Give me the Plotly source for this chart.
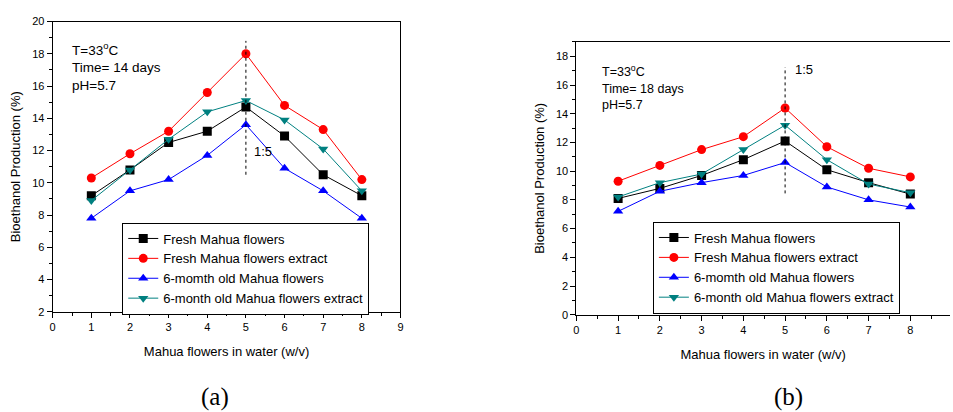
import plotly.graph_objects as go

# Mahua flower to water ratio (w/v)
ratio = [1, 2, 3, 4, 5, 6, 7, 8]

series_names = [
    "Fresh Mahua flowers",
    "Fresh Mahua flowers extract",
    "6-momth old Mahua flowers",
    "6-month old Mahua flowers extract",
]

# (a) 14 days of fermentation
fresh_14 = [9.2, 10.8, 12.5, 13.2, 14.7, 12.9, 10.5, 9.2]
fresh_extract_14 = [10.3, 11.8, 13.2, 15.6, 18.0, 14.8, 13.3, 10.2]
old_14 = [7.8, 9.5, 10.2, 11.7, 13.6, 10.9, 9.5, 7.8]
old_extract_14 = [8.9, 10.8, 12.7, 14.4, 15.1, 13.9, 12.1, 9.5]

# (b) 18 days of fermentation
fresh_18 = [8.1, 8.8, 9.7, 10.8, 12.1, 10.1, 9.2, 8.4]
fresh_extract_18 = [9.3, 10.4, 11.5, 12.4, 14.4, 11.7, 10.2, 9.6]
old_18 = [7.2, 8.6, 9.2, 9.7, 10.6, 8.9, 8.0, 7.5]
old_extract_18 = [8.2, 9.2, 9.8, 11.5, 13.2, 10.8, 9.1, 8.5]

# optimum ratio marker (1:5) spans for each panel
optimum_x = 5
optimum_span_a = [10.5, 18.8]
optimum_span_b = [8.45, 17.25]

colors = ["#000000", "#ff0000", "#0000ff", "#008080"]
symbols = ["square", "circle", "triangle-up", "triangle-down"]

FONT = "Arial, Liberation Sans, sans-serif"

fig = go.Figure()

panels = [
    ("x", "y", "legend", [fresh_14, fresh_extract_14, old_14, old_extract_14]),
    ("x2", "y2", "legend2", [fresh_18, fresh_extract_18, old_18, old_extract_18]),
]
for xa, ya, lg, data in panels:
    for name, vals, c, s in zip(series_names, data, colors, symbols):
        fig.add_trace(go.Scatter(
            x=ratio, y=vals, name=name, mode="lines+markers",
            line=dict(color=c, width=1),
            marker=dict(color=c, symbol=s, size=9),
            xaxis=xa, yaxis=ya, legend=lg,
        ))

axis_common = dict(
    showgrid=False, zeroline=False, showline=True, linecolor="black",
    linewidth=1, ticks="outside", ticklen=5, tickcolor="black",
    tickfont=dict(family=FONT, size=11, color="black"),
)

fig.update_layout(
    width=953, height=412,
    margin=dict(l=0, r=0, t=0, b=0),
    paper_bgcolor="white", plot_bgcolor="white",
    font=dict(family=FONT, color="black"),
    xaxis=dict(domain=[50 / 953, 400 / 953], range=[0, 9], dtick=1,
               mirror=True, anchor="y",
               minor=dict(dtick=0.5, ticks="outside", ticklen=3, tickcolor="black"),
               title=dict(text="Mahua flowers in water (w/v)",
                          font=dict(size=13), standoff=14),
               **axis_common),
    yaxis=dict(domain=[97 / 412, 396 / 412], range=[2, 20], dtick=2,
               mirror=True, anchor="x",
               minor=dict(dtick=1, ticks="outside", ticklen=3, tickcolor="black"),
               title=dict(text="Bioethanol Production (%)",
                          font=dict(size=13), standoff=8),
               **axis_common),
    xaxis2=dict(domain=[577 / 953, 1.0], range=[0, 8.95], dtick=1,
                mirror=True, anchor="y2",
                minor=dict(dtick=0.5, ticks="outside", ticklen=3, tickcolor="black"),
                title=dict(text="Mahua flowers in water (w/v)",
                           font=dict(size=13), standoff=14),
                **axis_common),
    yaxis2=dict(domain=[94 / 412, 375 / 412], range=[0, 19], dtick=2,
                mirror=False, anchor="x2",
                minor=dict(dtick=1, ticks="outside", ticklen=3, tickcolor="black"),
                title=dict(text="Bioethanol Production (%)",
                           font=dict(size=13), standoff=8),
                **axis_common),
    legend=dict(x=120 / 953, y=189 / 412, xanchor="left", yanchor="top",
                bordercolor="black", borderwidth=1, bgcolor="white",
                font=dict(size=13), tracegroupgap=0, itemwidth=30),
    legend2=dict(x=654 / 953, y=190 / 412, xanchor="left", yanchor="top",
                 bordercolor="black", borderwidth=1, bgcolor="white",
                 font=dict(size=13), tracegroupgap=0, itemwidth=30),
)

# dashed line at the optimum ratio
for xr, yr, span in [("x", "y", optimum_span_a), ("x2", "y2", optimum_span_b)]:
    fig.add_shape(type="line", xref=xr, yref=yr,
                  x0=optimum_x, x1=optimum_x, y0=span[0], y1=span[1],
                  line=dict(color="black", width=1, dash="dot"))

conditions_a = "T=33<sup>o</sup>C<br>Time= 14 days<br>pH=5.7"
conditions_b = "T=33<sup>o</sup>C<br>Time= 18 days<br>pH=5.7"

annotations = [
    dict(text=conditions_a, xref="x", yref="y", x=0.45, y=18.95,
         xanchor="left", yanchor="top", align="left", size=13.5),
    dict(text=conditions_b, xref="x2", yref="y2", x=0.57, y=17.65,
         xanchor="left", yanchor="top", align="left", size=12.5),
    dict(text="1:5", xref="x", yref="y", x=5.15, y=11.95,
         xanchor="left", yanchor="middle", size=13),
    dict(text="1:5", xref="x2", yref="y2", x=5.2, y=17.1,
         xanchor="left", yanchor="middle", size=13),
]
for a in annotations:
    sz = a.pop("size")
    fig.add_annotation(showarrow=False, font=dict(family=FONT, size=sz, color="black"), **a)

# panel captions
for label, xp in [("(a)", 213), ("(b)", 790)]:
    fig.add_annotation(text=label, xref="paper", yref="paper",
                       x=xp / 953, y=9 / 412, showarrow=False,
                       xanchor="center", yanchor="middle",
                       font=dict(family="Liberation Serif, Times New Roman, serif",
                                 size=25, color="black"))

fig.write_html("out.html")
